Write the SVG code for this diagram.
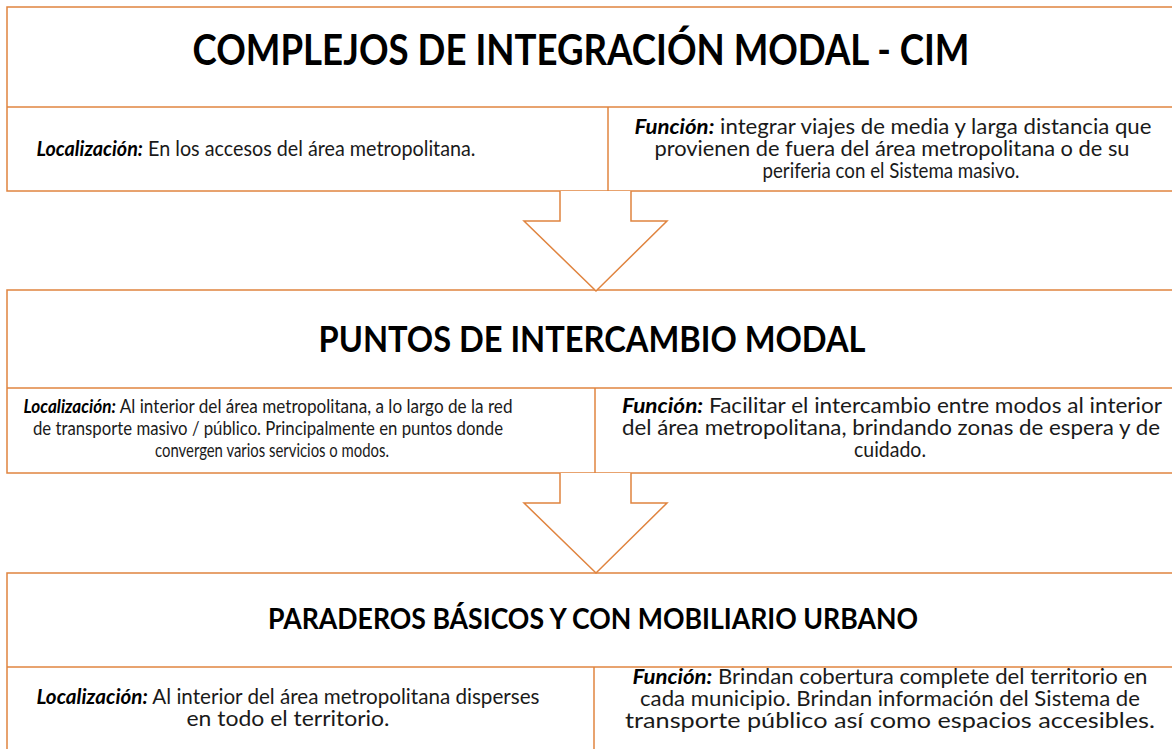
<svg xmlns="http://www.w3.org/2000/svg" width="1172" height="749" viewBox="0 0 1172 749">
<style>
.box{fill:#fff;stroke:#E0843F;stroke-width:1.5}
.ln{stroke:#E0843F;stroke-width:1.5;fill:none}
.arr{fill:#fff;stroke:#E0843F;stroke-width:1.5}
.t{font-family:Lato,"Liberation Sans",sans-serif;font-weight:bold;fill:#000;text-anchor:middle}
.b{font-family:Lato,"Liberation Sans",sans-serif;fill:#1a1a1a;text-anchor:middle}
.k{font-weight:bold;font-style:italic;fill:#000}
</style>
<rect width="1172" height="749" fill="#fff"/>
<g id="node-cim">
<rect class="box" x="7" y="7" width="1180" height="184"/>
<line class="ln" x1="7" y1="107" x2="1180" y2="107"/>
<line class="ln" x1="608" y1="107" x2="608" y2="191"/>
<text class="t" x="581" y="65" font-size="42" textLength="777" lengthAdjust="spacingAndGlyphs">COMPLEJOS DE INTEGRACIÓN MODAL - CIM</text>
<text class="b" x="256" y="156" font-size="20.5" textLength="439" lengthAdjust="spacingAndGlyphs"><tspan class="k">Localización:</tspan> En los accesos del área metropolitana.</text>
<text class="b" x="893" y="134" font-size="20.5" textLength="517" lengthAdjust="spacingAndGlyphs"><tspan class="k">Función:</tspan> integrar viajes de media y larga distancia que</text>
<text class="b" x="892" y="156" font-size="20.5" textLength="475" lengthAdjust="spacingAndGlyphs">provienen de fuera del área metropolitana o de su</text>
<text class="b" x="891" y="178" font-size="20.5" textLength="257" lengthAdjust="spacingAndGlyphs">periferia con el Sistema masivo.</text>
</g>
<g id="node-pim">
<rect class="box" x="7" y="290" width="1180" height="183"/>
<line class="ln" x1="7" y1="388" x2="1180" y2="388"/>
<line class="ln" x1="595" y1="388" x2="595" y2="473"/>
<text class="t" x="592" y="352" font-size="36" textLength="547" lengthAdjust="spacingAndGlyphs">PUNTOS DE INTERCAMBIO MODAL</text>
<text class="b" x="268" y="413" font-size="18.5" textLength="489" lengthAdjust="spacingAndGlyphs"><tspan class="k">Localización:</tspan> Al interior del área metropolitana, a lo largo de la red</text>
<text class="b" x="268" y="435" font-size="18.5" textLength="470" lengthAdjust="spacingAndGlyphs">de transporte masivo / público. Principalmente en puntos donde</text>
<text class="b" x="272" y="457" font-size="18.5" textLength="234" lengthAdjust="spacingAndGlyphs">convergen varios servicios o modos.</text>
<text class="b" x="892" y="413" font-size="20.5" textLength="540" lengthAdjust="spacingAndGlyphs"><tspan class="k">Función:</tspan> Facilitar el intercambio entre modos al interior</text>
<text class="b" x="891" y="435" font-size="20.5" textLength="538" lengthAdjust="spacingAndGlyphs">del área metropolitana, brindando zonas de espera y de</text>
<text class="b" x="890" y="457" font-size="20.5" textLength="72" lengthAdjust="spacingAndGlyphs">cuidado.</text>
</g>
<g id="node-paraderos">
<rect class="box" x="7" y="573" width="1180" height="190"/>
<line class="ln" x1="7" y1="667" x2="1180" y2="667"/>
<line class="ln" x1="594" y1="667" x2="594" y2="760"/>
<text class="t" x="593" y="629" font-size="29" textLength="650" lengthAdjust="spacingAndGlyphs">PARADEROS BÁSICOS Y CON MOBILIARIO URBANO</text>
<text class="b" x="288" y="704" font-size="20.5" textLength="503" lengthAdjust="spacingAndGlyphs"><tspan class="k">Localización:</tspan> Al interior del área metropolitana disperses</text>
<text class="b" x="288" y="726" font-size="20.5" textLength="203" lengthAdjust="spacingAndGlyphs">en todo el territorio.</text>
<text class="b" x="890" y="684" font-size="20.5" textLength="515" lengthAdjust="spacingAndGlyphs"><tspan class="k">Función:</tspan> Brindan cobertura complete del territorio en</text>
<text class="b" x="890" y="706" font-size="20.5" textLength="500" lengthAdjust="spacingAndGlyphs">cada municipio. Brindan información del Sistema de</text>
<text class="b" x="890" y="728" font-size="20.5" textLength="530" lengthAdjust="spacingAndGlyphs">transporte público así como espacios accesibles.</text>
</g>
<g id="connectors">
<polyline class="arr" points="560,191 560,221 524,221 596,291 667,221 631,221 631,191"/>
<polyline class="arr" points="560,473 560,503 524,503 596,573 667,503 631,503 631,473"/>
</g>
</svg>
